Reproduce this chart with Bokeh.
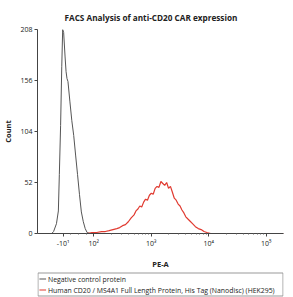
import math
from bokeh.plotting import figure
from bokeh.layouts import column
from bokeh.models import FixedTicker, Range1d
from bokeh.core.properties import value
from bokeh.embed import file_html
from bokeh.resources import INLINE

# x values are in display (biexponential) units: 2 -> 10^2, 3 -> 10^3 ...
neg_x = [1.000, 1.267, 1.300, 1.350, 1.383, 1.400, 1.422, 1.442, 1.458, 1.475, 1.500,
         1.517, 1.533, 1.550, 1.583, 1.617, 1.650, 1.683, 1.717, 1.750, 1.783,
         1.817, 1.850, 1.883, 1.933, 5.300]
neg_count = [0, 0, 2, 10, 23, 60, 110, 170, 208, 205, 180,
             165, 158, 155, 135, 115, 100, 80, 60, 40, 22,
             12, 5, 1, 0, 0]

cd20_x = [1.000, 1.883, 1.967, 2.050, 2.133, 2.200, 2.267, 2.333, 2.400, 2.450, 2.500,
          2.550, 2.600, 2.650, 2.700, 2.733, 2.767, 2.800, 2.833, 2.867, 2.900,
          2.933, 2.967, 3.000, 3.033, 3.067, 3.100, 3.133, 3.167, 3.200, 3.233,
          3.267, 3.300, 3.333, 3.367, 3.400, 3.433, 3.467, 3.500, 3.533, 3.567,
          3.600, 3.633, 3.667, 3.717, 3.767, 3.817, 3.867, 3.917, 3.967, 4.033,
          4.133, 5.300]
cd20_count = [0, 0, 1, 1, 2, 2, 3, 4, 5, 6, 8,
              9, 12, 16, 19, 23, 25, 28, 27, 32, 35,
              34, 39, 41, 40, 46, 48, 47, 53, 51, 49,
              52, 46, 48, 42, 36, 34, 30, 28, 24, 21,
              17, 15, 13, 10, 7, 5, 4, 2, 1, 0,
              0, 0]

x_ticks = [1.467, 2, 3, 4, 5]
x_tick_labels = ["-10¹", "10²", "10³", "10⁴", "10⁵"]
y_ticks = [0, 52, 104, 156, 208]

title = "FACS Analysis of anti-CD20 CAR expression"
series_names = ["Negative control protein",
                "Human CD20 / MS4A1 Full Length Protein, His Tag (Nanodisc) (HEK295)"]
series_colors = ["#555555", "#e03a30"]

FONT = "Open Sans"
W = 284
BL, BR = 25, 1

p = figure(width=W, height=271, output_backend="svg", toolbar_location=None,
           x_range=Range1d(1.02, 5.3), y_range=Range1d(0, 208),
           min_border_left=BL, min_border_top=29, min_border_right=BR, min_border_bottom=36,
           title=title)
p.title.text_font = FONT
p.title.text_font_size = "8.2px"
p.title.text_font_style = "bold"
p.title.text_color = "#222222"
p.title.align = "left"
p.title.offset = 27
p.title.standoff = 14
p.outline_line_color = None
p.xgrid.visible = False
p.ygrid.visible = False

minor = []
for d in [2, 3, 4]:
    for k in range(2, 10):
        minor.append(d + math.log10(k))
minor += [1.6, 1.73, 1.87]

p.xaxis.ticker = FixedTicker(ticks=x_ticks, minor_ticks=minor)
p.xaxis.major_label_overrides = {t: l for t, l in zip(x_ticks, x_tick_labels)}
p.yaxis.ticker = FixedTicker(ticks=y_ticks)

for ax in (p.xaxis, p.yaxis):
    ax.axis_line_color = "#444444"
    ax.major_tick_line_color = "#444444"
    ax.minor_tick_line_color = "#666666"
    ax.major_tick_out = 3
    ax.major_tick_in = 0
    ax.minor_tick_out = 1
    ax.minor_tick_in = 0
    ax.major_label_text_font = FONT
    ax.major_label_text_font_size = "7px"
    ax.major_label_text_color = "#222222"
    ax.axis_label_text_font = FONT
    ax.axis_label_text_font_size = "7.5px"
    ax.axis_label_text_font_style = "bold"
    ax.axis_label_text_color = "#222222"
p.yaxis.minor_tick_line_color = None
p.xaxis.major_label_standoff = 2
p.yaxis.major_label_standoff = 2
p.xaxis.axis_label = "PE-A"
p.yaxis.axis_label = "Count"
p.xaxis.axis_label_standoff = 8
p.yaxis.axis_label_standoff = 4

p.line(neg_x, neg_count, line_color=series_colors[0], line_width=1)
p.line(cd20_x, cd20_count, line_color=series_colors[1], line_width=1.2)

# legend strip below the plot (pixel-unit coordinates inside the strip)
LH = 26
FW = W - BL - BR
p2 = figure(width=W, height=LH, output_backend="svg", toolbar_location=None,
            x_range=Range1d(0, FW), y_range=Range1d(0, LH),
            x_axis_location=None, y_axis_location=None,
            min_border_left=BL, min_border_right=BR, min_border_top=0, min_border_bottom=0)
p2.xgrid.visible = False
p2.ygrid.visible = False
p2.outline_line_color = None

row_y = [18.5, 7.5]
p2.quad(left=[0.5], right=[FW - 0.5], bottom=[1.5], top=[24.5],
        fill_color=None, line_color="#999999", line_width=1)
p2.segment(x0=[2, 2], y0=row_y, x1=[9, 9], y1=row_y,
           line_color=series_colors, line_width=[1, 1.2])
p2.text(x=[11, 11], y=row_y, text=series_names,
        text_font=value(FONT), text_font_size="6.9px", text_color="#222222",
        text_baseline="middle", text_align="left")

layout = column(p, p2, spacing=0)
open("out.html", "w").write(file_html(layout, INLINE))
